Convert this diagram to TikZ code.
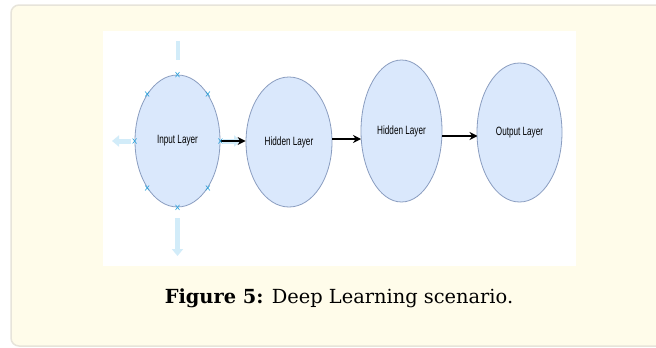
\documentclass[tikz,border=0pt]{standalone}
\usepackage{fontspec}
\setmainfont{DejaVu Serif}
\newfontfamily\diagfont{Liberation Sans}
\usetikzlibrary{arrows.meta,shapes.geometric}
\definecolor{panelfill}{HTML}{FFFCEA}
\definecolor{panelline}{HTML}{E7E4DA}
\definecolor{layerfill}{HTML}{DAE8FC}
\definecolor{layerline}{HTML}{8A9DC0}
\definecolor{handle}{HTML}{2EA3DC}
\definecolor{hover}{HTML}{D2ECF9}
\tikzset{
  layer/.style={shape=ellipse,draw=layerline,fill=layerfill,line width=0.8pt,
    minimum width=#1,inner sep=0pt,font=\diagfont\fontsize{12}{12}\selectfont},
  link/.style={-{Stealth[length=8pt,width=8pt]},line width=1.2pt,black},
  hoverarrow/.style={-{Triangle[length=7pt,width=11pt]},line width=5pt,hover}
}
\newcommand{\lbl}[1]{\scalebox{0.68}[1]{#1}}
\begin{document}
\begin{tikzpicture}[x=1pt,y=-1pt]
\useasboundingbox (0,0) rectangle (656,348);
\draw[fill=panelfill,draw=panelline,line width=1.5pt,rounded corners=8pt] (11,5) rectangle (690,346);
\fill[white] (103,31) rectangle (576,266);

\node[layer=85pt,minimum height=132pt] (in) at (177.5,141) {\lbl{Input Layer}};
\node[layer=86pt,minimum height=130pt] (h1) at (289,142) {\lbl{Hidden Layer}};
\node[layer=81pt,minimum height=142pt] (h2) at (401.5,131) {\lbl{Hidden Layer}};
\node[layer=85pt,minimum height=139pt] (out) at (519.5,132.5) {\lbl{Output Layer}};

% hover arrows round the selected node
\coordinate (up) at (177.5,41);
\coordinate (upend) at (177.5,60);
\coordinate (left) at (112,141);
\coordinate (leftend) at (131,141);
\coordinate (right) at (241,141);
\coordinate (rightend) at (223,141);
\coordinate (down) at (177.5,256);
\coordinate (downend) at (177.5,218);
\draw[line width=4pt,hover] (up) -- (upend);
\draw[hoverarrow] (leftend) -- (left);
\draw[hoverarrow] (rightend) -- (right);
\draw[hoverarrow] (downend) -- (down);

\path [link] (in.east) edge (in.east -| h1.west);
\path [link] (h1.east |- 0,139) edge (361,139);
\path [link] (h2.east |- 0,136) edge (477.5,136);

\foreach \a in {north,south,east,west,north east,north west,south east,south west}
  \draw[handle,line width=0.6pt] ([shift={(-2,-2.5)}]in.\a) -- ++(4,5) ([shift={(-2,2.5)}]in.\a) -- ++(4,-5);

\node (caption) at (339,298) {\fontsize{19.4}{22}\selectfont\textbf{Figure 5:} Deep Learning scenario.};
\end{tikzpicture}
\end{document}
